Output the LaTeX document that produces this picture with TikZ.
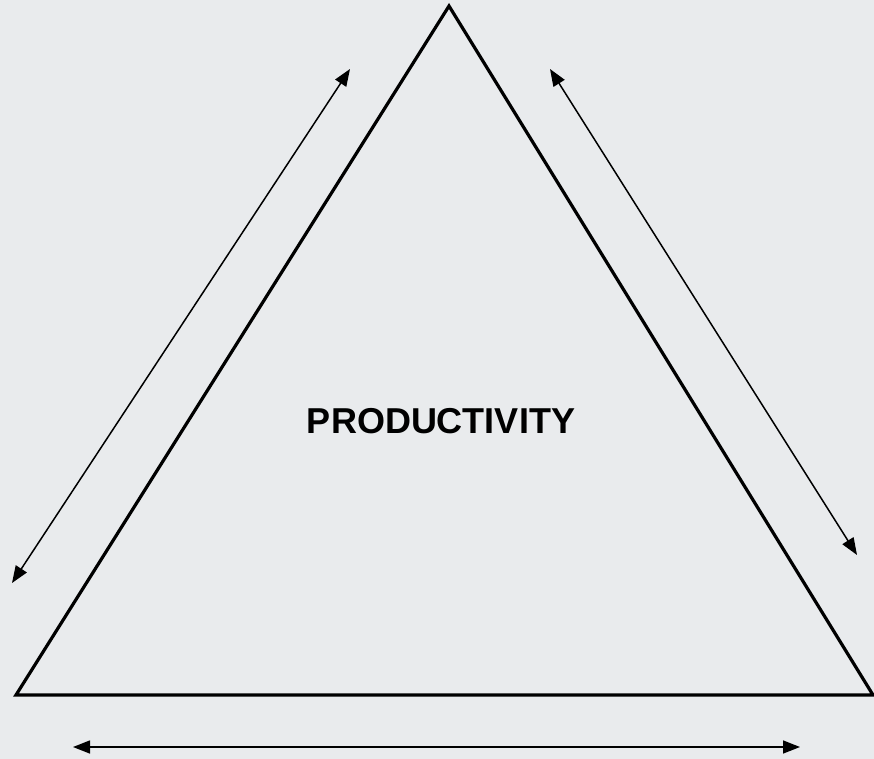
\documentclass[tikz,border=0pt]{standalone}
\usepackage{fontspec}
\setmainfont{Liberation Sans}
\usetikzlibrary{arrows.meta}
\definecolor{bg}{RGB}{233,235,237}
\tikzset{
  tri/.style={line width=3.2pt, line join=miter},
  dblarrow/.style={line width=1.5pt, {Triangle[length=17pt,width=13pt]}-{Triangle[length=17pt,width=13pt]}},
  title/.style={font=\bfseries\fontsize{36}{40}\selectfont, inner sep=0pt}
}
\begin{document}
\begin{tikzpicture}[x=1pt,y=-1pt]
\fill[bg] (0,0) rectangle (874,759);
\useasboundingbox (0,0) rectangle (874,759);
\coordinate (top) at (449,6);
\coordinate (bl) at (16,695);
\coordinate (br) at (873,695);
\draw[tri] (bl) -- (top) -- (br) -- cycle;
\coordinate (la) at (350,69);
\coordinate (lb) at (12,583);
\coordinate (ra) at (550,69);
\coordinate (rb) at (857,555);
\coordinate (ba) at (73,747);
\coordinate (bb) at (800,747);
\draw[dblarrow] (lb) -- (la);
\draw[dblarrow] (ra) -- (rb);
\draw[dblarrow] (ba) -- (bb);
\node[title] (p) at (441,421) {PRODUCTIVITY};
\end{tikzpicture}
\end{document}
